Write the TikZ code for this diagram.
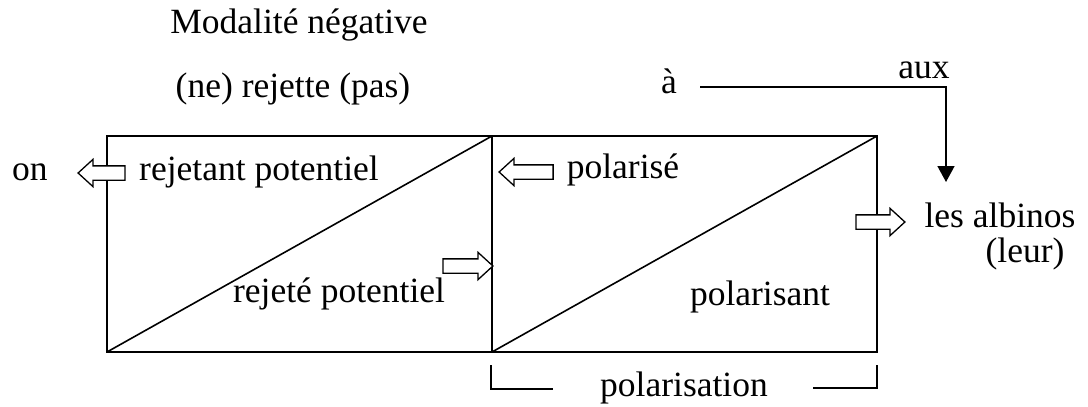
\documentclass[tikz,border=0pt]{standalone}
\usepackage{fontspec}
\setmainfont{Liberation Serif}
\usetikzlibrary{shapes.arrows,arrows.meta}
\begin{document}
\begin{tikzpicture}[x=1pt,y=-1pt,
  lbl/.style={inner sep=0pt,anchor=base,font=\fontsize{35.5}{42}\selectfont},
  boxline/.style={line width=1.6pt},
  hollow/.style={single arrow,draw,line width=1.3pt,fill=white,inner xsep=0pt,inner ysep=6.5pt,
     single arrow head extend=6.5pt,single arrow tip angle=85,minimum height=#1},
  hollowL/.style={hollow=#1,shape border rotate=180},
]
\useasboundingbox (0,0) rectangle (1088,407);
% frame
\coordinate (tl) at (107,136);
\coordinate (tm) at (492,136);
\coordinate (tr) at (877,136);
\coordinate (bl) at (107,352);
\coordinate (bm) at (492,352);
\coordinate (br) at (877,352);
\draw[boxline] (tl) rectangle (br);
\draw[boxline] (tm) -- (bm);
\draw[boxline] (bl) -- (tm);
\draw[boxline] (bm) -- (tr);
% texts
\node[lbl] (modal) at (299,33) {Modalité négative};
\node[lbl] (rejette) at (293,97) {(ne) rejette (pas)};
\node[lbl] (a) at (669,93) {à};
\node[lbl] (aux) at (924,78) {aux};
\node[lbl] (on) at (30,180) {on};
\node[lbl] (rejetant) at (259,180) {rejetant potentiel};
\node[lbl] (polarise) at (623,178) {polarisé};
\node[lbl] (rejete) at (339,302) {rejeté potentiel};
\node[lbl] (polarisant) at (760,305) {polarisant};
\node[lbl] (albinos) at (1000,227) {les albinos};
\node[lbl] (leur) at (1025,262) {(leur)};
\node[lbl] (polarisation) at (684,396) {polarisation};
% hollow arrows
\node[hollowL=47pt] (arr1) at (105.5,173) {};
\node[hollow=50pt] (arr2) at (464,266) {};
\node[hollowL=54pt] (arr3) at (530,172) {};
\node[hollow=49pt] (arr4) at (876.5,222) {};
% arrow from a to albinos
\coordinate (start) at (700,87);
\coordinate (corner) at (946,87);
\coordinate (tip) at (946,182);
\draw[line width=1.5pt,-{Triangle[width=17pt,length=16pt]}] (start) -- (corner) -- (tip);
% bracket
\draw[line width=1.5pt] (491,365) |- (553,389);
\draw[line width=1.5pt] (813,388) -| (877,365);
\end{tikzpicture}
\end{document}
